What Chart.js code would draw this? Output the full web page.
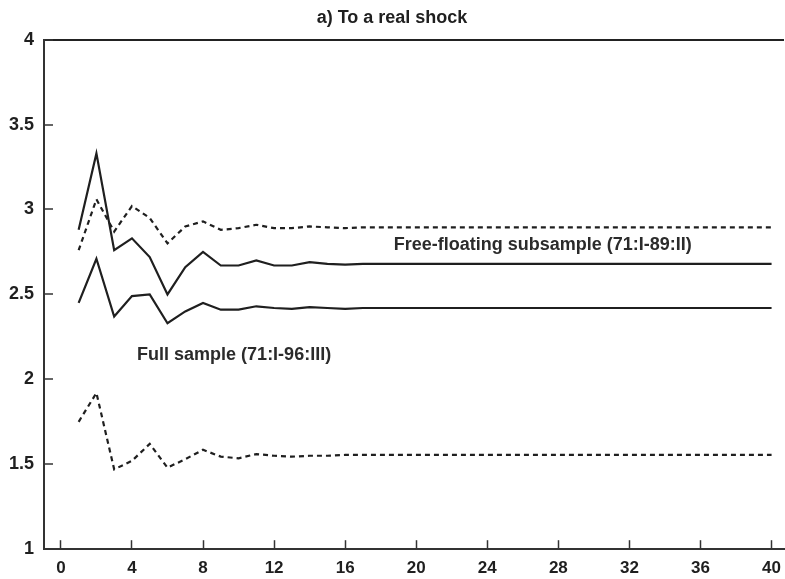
<!DOCTYPE html>
<html>
<head>
<meta charset="utf-8">
<title>a) To a real shock</title>
<script src="https://cdn.jsdelivr.net/npm/chart.js@4/dist/chart.umd.min.js"></script>
<style>
  html, body { margin: 0; padding: 0; background: #ffffff; }
  canvas { display: block; }
</style>
</head>
<body>
<canvas id="chart" width="785" height="579"></canvas>
<script>
// Response horizon (quarters after the shock)
const steps = [1, 2, 3, 4, 5, 6, 7, 8, 9, 10,
               11, 12, 13, 14, 15, 16, 17, 18, 19, 20,
               21, 22, 23, 24, 25, 26, 27, 28, 29, 30,
               31, 32, 33, 34, 35, 36, 37, 38, 39, 40];

// Free-floating subsample (71:I-89:II): response and its dashed band
const freeFloating = [2.88, 3.33, 2.76, 2.83, 2.72, 2.50, 2.66, 2.75, 2.67, 2.67,
                      2.70, 2.67, 2.67, 2.69, 2.68, 2.675, 2.68, 2.68, 2.68, 2.68,
                      2.68, 2.68, 2.68, 2.68, 2.68, 2.68, 2.68, 2.68, 2.68, 2.68,
                      2.68, 2.68, 2.68, 2.68, 2.68, 2.68, 2.68, 2.68, 2.68, 2.68];
const freeFloatingBand = [2.76, 3.06, 2.87, 3.02, 2.95, 2.80, 2.90, 2.93, 2.88, 2.89,
                          2.91, 2.89, 2.89, 2.90, 2.895, 2.89, 2.895, 2.895, 2.895, 2.895,
                          2.895, 2.895, 2.895, 2.895, 2.895, 2.895, 2.895, 2.895, 2.895, 2.895,
                          2.895, 2.895, 2.895, 2.895, 2.895, 2.895, 2.895, 2.895, 2.895, 2.895];

// Full sample (71:I-96:III): response and its dashed band
const fullSample = [2.45, 2.71, 2.37, 2.49, 2.50, 2.33, 2.40, 2.45, 2.41, 2.41,
                    2.43, 2.42, 2.415, 2.425, 2.42, 2.415, 2.42, 2.42, 2.42, 2.42,
                    2.42, 2.42, 2.42, 2.42, 2.42, 2.42, 2.42, 2.42, 2.42, 2.42,
                    2.42, 2.42, 2.42, 2.42, 2.42, 2.42, 2.42, 2.42, 2.42, 2.42];
const fullSampleBand = [1.75, 1.92, 1.47, 1.52, 1.62, 1.48, 1.53, 1.585, 1.545, 1.535,
                        1.56, 1.55, 1.545, 1.55, 1.55, 1.555, 1.555, 1.555, 1.555, 1.555,
                        1.555, 1.555, 1.555, 1.555, 1.555, 1.555, 1.555, 1.555, 1.555, 1.555,
                        1.555, 1.555, 1.555, 1.555, 1.555, 1.555, 1.555, 1.555, 1.555, 1.555];

// Axis tick labels
const xTickValues = [0, 4, 8, 12, 16, 20, 24, 28, 32, 36, 40];
const yTickValues = [1, 1.5, 2, 2.5, 3, 3.5, 4];

const chartTitle = 'a) To a real shock';
const freeFloatingLabel = 'Free-floating subsample (71:I-89:II)';
const fullSampleLabel = 'Full sample (71:I-96:III)';

const FONT = '"Liberation Sans", Arial, Helvetica, sans-serif';
const INK = '#1f1f1f';

const toPoints = arr => steps.map((s, i) => ({ x: s, y: arr[i] }));

function lineSet(label, values, dashed) {
  return {
    label,
    data: toPoints(values),
    borderColor: INK,
    borderWidth: 2.2,
    borderDash: dashed ? [5, 4] : [],
    pointRadius: 0,
    tension: 0,
    fill: false
  };
}

// In-plot series captions, placed in data coordinates
const seriesCaptions = {
  id: 'seriesCaptions',
  afterDatasetsDraw(chart) {
    const { ctx, scales: { x, y } } = chart;
    ctx.save();
    ctx.font = 'bold 18px ' + FONT;
    ctx.fillStyle = '#2b2b2b';
    ctx.textAlign = 'center';
    ctx.textBaseline = 'alphabetic';
    ctx.fillText(freeFloatingLabel, x.getPixelForValue(27.12), y.getPixelForValue(2.762));
    ctx.fillText(fullSampleLabel, x.getPixelForValue(9.75), y.getPixelForValue(2.115));
    ctx.restore();
  }
};

new Chart(document.getElementById('chart'), {
  type: 'line',
  data: {
    datasets: [
      lineSet('Free-floating subsample', freeFloating, false),
      lineSet('Free-floating subsample band', freeFloatingBand, true),
      lineSet('Full sample', fullSample, false),
      lineSet('Full sample band', fullSampleBand, true)
    ]
  },
  options: {
    responsive: false,
    animation: false,
    devicePixelRatio: 1,
    layout: { padding: { left: 0, right: 1, top: 0, bottom: 0 } },
    plugins: {
      legend: { display: false },
      tooltip: { enabled: false },
      title: {
        display: true,
        text: chartTitle,
        color: INK,
        font: { family: FONT, size: 18, weight: 'bold' },
        padding: { top: 7, bottom: 11 }
      }
    },
    scales: {
      x: {
        type: 'linear',
        min: -0.95,
        max: 40.7,
        afterBuildTicks: scale => { scale.ticks = xTickValues.map(v => ({ value: v })); },
        afterFit: scale => {
          scale.height = 29;
          // edge labels fit inside the plot width, no side padding needed
          scale.paddingLeft = 0;
          scale.paddingRight = 0;
        },
        border: { display: true, color: '#333', width: 2 },
        grid: {
          drawOnChartArea: false,
          drawTicks: true,
          tickLength: -9,
          tickColor: '#333',
          tickWidth: 1.5
        },
        ticks: {
          color: INK,
          padding: 18,
          maxRotation: 0,
          autoSkip: false,
          font: { family: FONT, size: 17, weight: 'bold' }
        }
      },
      y: {
        type: 'linear',
        min: 1,
        max: 4,
        afterBuildTicks: scale => { scale.ticks = yTickValues.map(v => ({ value: v })); },
        afterFit: scale => { scale.width = 44; },
        border: { display: true, color: '#333', width: 2 },
        grid: {
          drawOnChartArea: true,
          drawTicks: true,
          tickLength: -9,
          lineWidth: 2,
          color: c => (c.tick && c.tick.value === 4) ? '#222' : 'rgba(0,0,0,0)',
          tickColor: '#333',
          tickWidth: 1.5
        },
        ticks: {
          color: INK,
          padding: 19,
          callback: v => String(v),
          font: { family: FONT, size: 18, weight: 'bold' }
        }
      }
    }
  },
  plugins: [seriesCaptions]
});
</script>
</body>
</html>
